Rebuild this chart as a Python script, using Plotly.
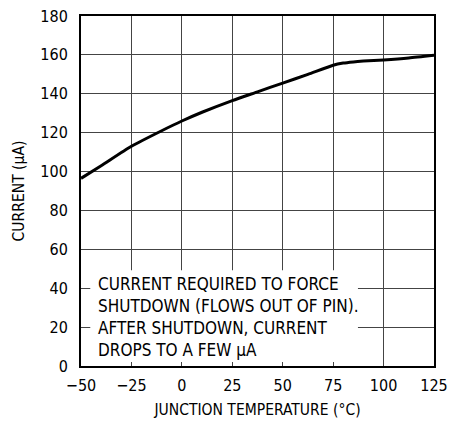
import plotly.graph_objects as go

temp_c = [-50, -40, -25, -10, 0, 10, 25, 37.5, 50, 62.5, 75, 80, 85, 90, 100, 112.5, 125]
current_ua = [96.5, 103, 113, 121, 126, 130.5, 136.5, 141, 145.5, 150, 154.7, 155.8, 156.4, 156.8, 157.4, 158.4, 159.8]

x_ticks = [-50, -25, 0, 25, 50, 75, 100, 125]
x_tick_text = ["\u221250", "\u221225", "0", "25", "50", "75", "100", "125"]
y_ticks = [0, 20, 40, 60, 80, 100, 120, 140, 160, 180]

note_lines = ["CURRENT REQUIRED TO FORCE", "SHUTDOWN (FLOWS OUT OF PIN).",
              "AFTER SHUTDOWN, CURRENT", "DROPS TO A FEW \u03bcA"]

FONT = "DejaVu Sans Condensed, Liberation Sans Narrow, Arial Narrow, sans-serif"

fig = go.Figure()
fig.add_trace(go.Scatter(x=temp_c, y=current_ua, mode="lines",
                         line=dict(color="black", width=3, shape="spline", smoothing=0.6),
                         showlegend=False, hoverinfo="skip"))

fig.add_shape(type="rect", xref="x", yref="y", x0=-45.4, x1=87.3, y0=2, y1=49.2,
              fillcolor="white", line=dict(width=0), layer="between")

fig.add_annotation(x=-42.6, y=25.3, xref="x", yref="y", xanchor="left", yanchor="middle",
                   text="<br>".join(note_lines), showarrow=False, align="left",
                   font=dict(family=FONT, size=17, color="black"))

fig.update_layout(
    width=451, height=421,
    margin=dict(l=81, r=17, t=16, b=55),
    paper_bgcolor="white", plot_bgcolor="white",
    font=dict(family=FONT, size=16, color="black"),
)
fig.update_xaxes(range=[-50, 125], tickvals=x_ticks, ticktext=x_tick_text,
                 showgrid=True, gridcolor="#444", gridwidth=1, automargin=False,
                 showline=True, linecolor="black", linewidth=2, mirror=True,
                 ticks="", ticklabelstandoff=4, zeroline=False, ticklabeloverflow="allow",
                 title=dict(text="JUNCTION TEMPERATURE (\u00b0C)", standoff=10,
                            font=dict(family=FONT, size=15.5)))
fig.update_yaxes(range=[0, 180], tickvals=y_ticks, automargin=False,
                 showgrid=True, gridcolor="#444", gridwidth=1,
                 showline=True, linecolor="black", linewidth=2, mirror=True,
                 ticks="", ticklabelstandoff=8, zeroline=False, ticklabeloverflow="allow",
                 title=dict(text="CURRENT (\u03bcA)", standoff=12,
                            font=dict(family=FONT, size=15.5)))

fig.write_html("out.html", config={"displayModeBar": False},
               post_script="document.body.style.margin='0';document.body.style.overflow='hidden';")
